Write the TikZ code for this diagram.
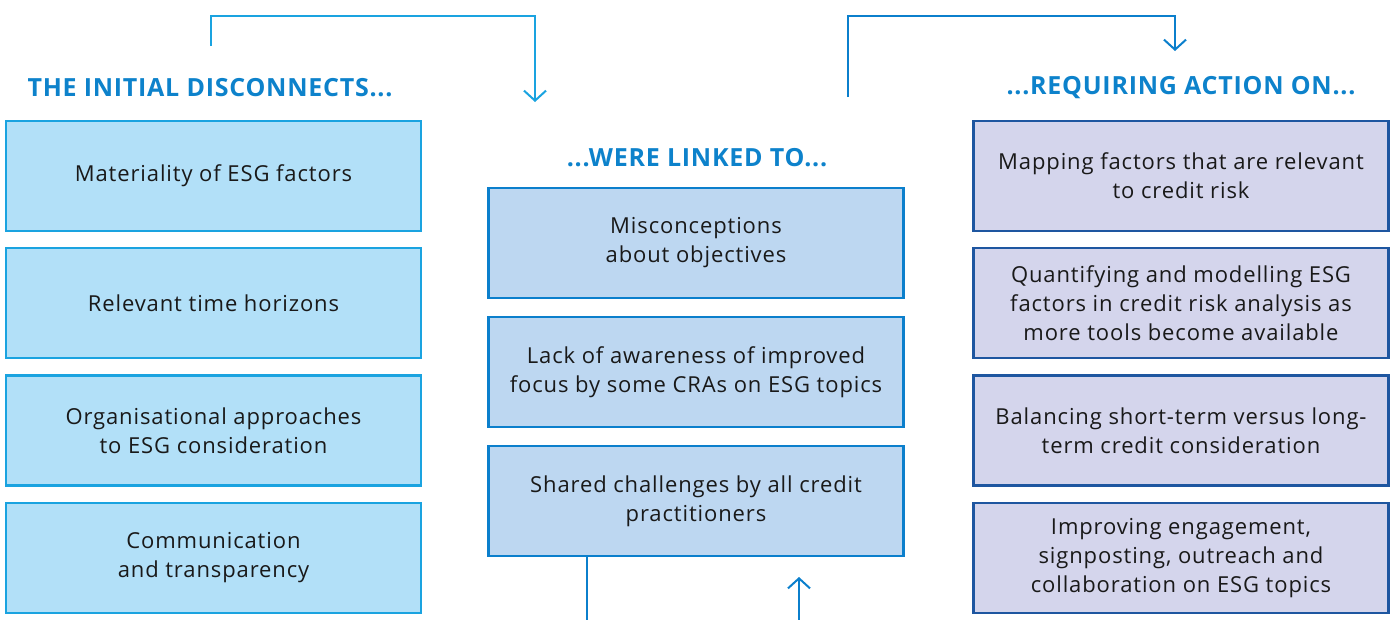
\documentclass[tikz,border=0pt]{standalone}
\usepackage{fontspec}
\setmainfont{Open Sans}
\newfontfamily\bodyfont[LetterSpace=4]{Open Sans}
\newfontfamily\headfont[LetterSpace=3]{Open Sans}
\usetikzlibrary{arrows.meta}
\definecolor{cyanline}{HTML}{1AA3E0}
\definecolor{leftfill}{HTML}{B2E0F8}
\definecolor{midline}{HTML}{0B7FCC}
\definecolor{midfill}{HTML}{BDD7F1}
\definecolor{rightline}{HTML}{1E56A0}
\definecolor{rightfill}{HTML}{D4D5EC}
\definecolor{headcol}{HTML}{0D82CB}
\tikzset{
  box/.style={draw, line width=2.5pt, minimum height=110pt, minimum width=415pt, align=center, inner sep=0pt,
    font=\bodyfont\fontsize{22}{29}\selectfont, text=black!90},
  leftbox/.style={box, draw=cyanline, fill=leftfill},
  midbox/.style={box, draw=midline, fill=midfill},
  rightbox/.style={box, draw=rightline, fill=rightfill},
  header/.style={text=headcol, font=\headfont\fontsize{25}{28}\selectfont\bfseries, inner sep=0pt},
  conn/.style={line width=2pt, -{Straight Barb[length=10pt,width=22pt,line width=2pt]}},
}
\begin{document}
\begin{tikzpicture}[x=1pt,y=-1pt]
\useasboundingbox (0,0) rectangle (1394,619);
% headers
\node[header] (h1) at (210,88) {THE INITIAL DISCONNECTS...};
\node[header] (h2) at (697,158) {...WERE LINKED TO...};
\node[header] (h3) at (1181,88) {...REQUIRING ACTION ON...};
% left column
\node[leftbox] (l1) at (213.5,176) {Materiality of ESG factors};
\node[leftbox] (l2) at (213.5,303) {Relevant time horizons};
\node[leftbox] (l3) at (213.5,430.5) {Organisational approaches\\to ESG consideration};
\node[leftbox] (l4) at (213.5,558) {Communication\\and transparency};
% middle column
\node[midbox] (m1) at (696,243) {Misconceptions\\about objectives};
\node[midbox] (m2) at (696,372) {Lack of awareness of improved\\focus by some CRAs on ESG topics};
\node[midbox] (m3) at (696,501) {Shared challenges by all credit\\practitioners};
% right column
\node[rightbox] (r1) at (1181,176) {Mapping factors that are relevant\\to credit risk};
\node[rightbox] (r2) at (1181,303) {Quantifying and modelling ESG\\factors in credit risk analysis as\\more tools become available};
\node[rightbox] (r3) at (1181,430.5) {Balancing short-term versus long-\\term credit consideration};
\node[rightbox] (r4) at (1181,558) {Improving engagement,\\signposting, outreach and\\collaboration on ESG topics};
% connector coordinates
\coordinate (a1) at (211,46);
\coordinate (a2) at (535,102);
\coordinate (b1) at (848,97);
\coordinate (b2) at (1175,51);
\coordinate (c1) at (587,620);
\coordinate (d1) at (799,620);
\coordinate (d2) at (799,577);
% connectors
\draw[conn, draw=cyanline] (a1) |- (535,16) -- (a2);
\draw[conn, draw=midline] (b1) |- (1175,16) -- (b2);
\draw[line width=2pt, draw=midline] (m3.south -| c1) -- (c1);
\draw[conn, draw=midline] (d1) -- (d2);
\end{tikzpicture}
\end{document}
